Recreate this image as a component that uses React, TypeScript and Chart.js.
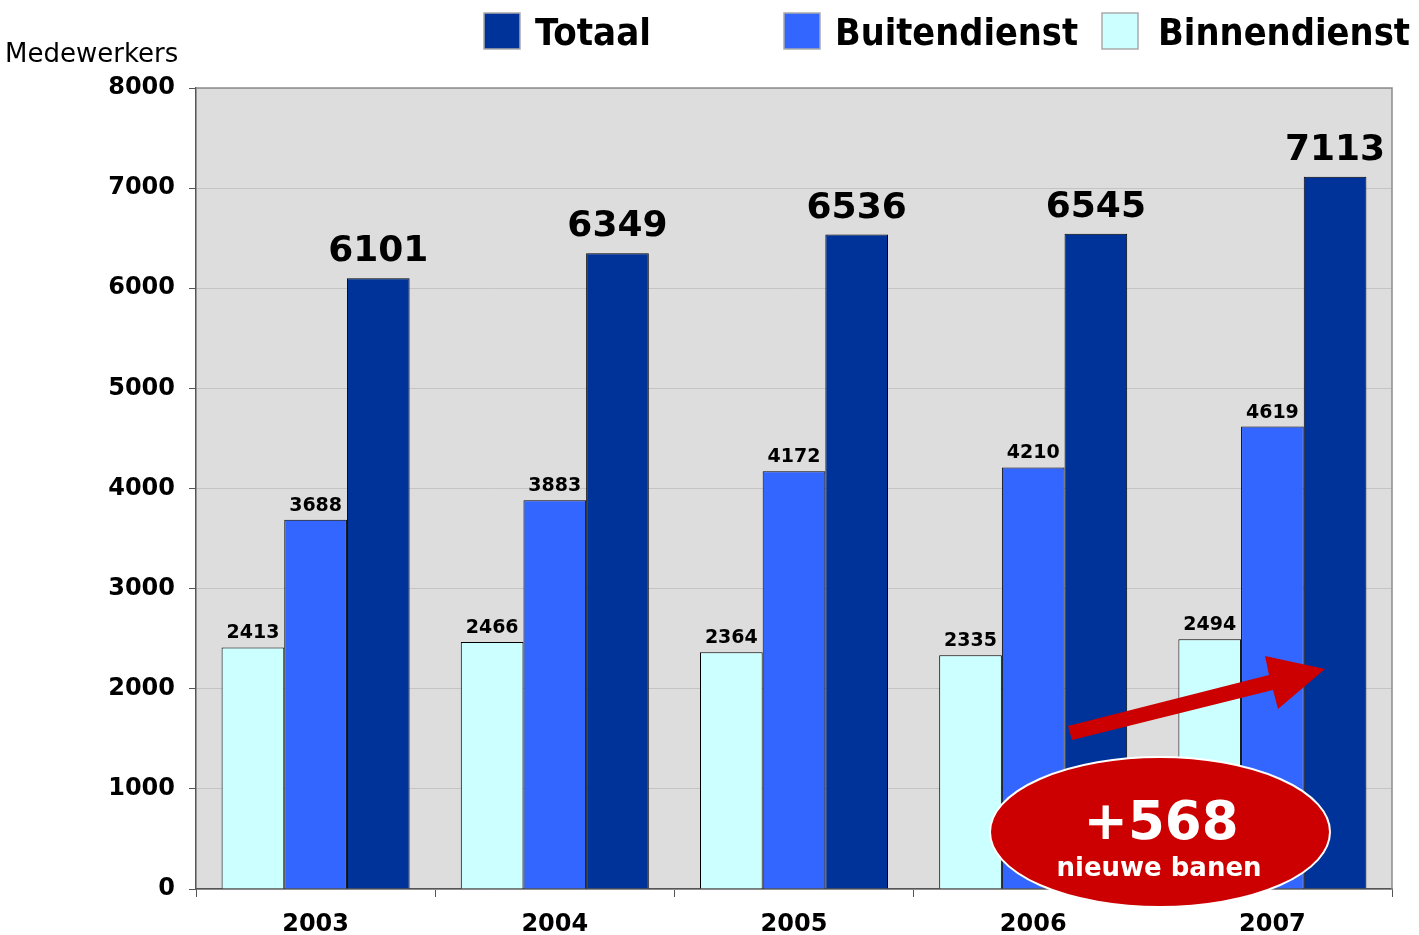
import React, { useEffect, useRef } from "react";
import { Chart, registerables } from "chart.js";

Chart.register(...registerables);

const years = ["2003", "2004", "2005", "2006", "2007"];
const binnendienst = [2413, 2466, 2364, 2335, 2494];
const buitendienst = [3688, 3883, 4172, 4210, 4619];
const totaal = [6101, 6349, 6536, 6545, 7113];

const seriesNames = ["Binnendienst", "Buitendienst", "Totaal"];
const seriesColors = ["#CCFFFF", "#3366FF", "#003399"];

const legendOrder = [2, 1, 0];
const yAxisTitle = "Medewerkers";
const bubbleBig = "+568";
const bubbleSmall = "nieuwe banen";

const FONT = "'DejaVu Sans', Verdana, sans-serif";
const FONT_C = "'DejaVu Sans Condensed', 'DejaVu Sans', sans-serif";

const bgPlugin = {
  id: "bgPlugin",
  beforeDraw(chart: any) {
    const { ctx, chartArea: a } = chart;
    ctx.save();
    ctx.fillStyle = "#DDDDDD";
    ctx.fillRect(a.left, a.top, a.right - a.left, a.bottom - a.top);
    ctx.restore();
  },
};

const labelPlugin = {
  id: "labelPlugin",
  afterDatasetsDraw(chart: any) {
    const { ctx, chartArea: a } = chart;
    ctx.save();
    ctx.strokeStyle = "#8C8C8C";
    ctx.lineWidth = 1.5;
    ctx.beginPath();
    ctx.moveTo(a.left, a.top);
    ctx.lineTo(a.right, a.top);
    ctx.lineTo(a.right, a.bottom);
    ctx.stroke();

    chart.data.datasets.forEach((ds: any, di: number) => {
      const meta = chart.getDatasetMeta(di);
      const big = di === 2;
      ctx.font = `bold ${big ? 36 : 19}px ${FONT}`;
      ctx.fillStyle = "#000";
      ctx.textAlign = "center";
      ctx.textBaseline = "alphabetic";
      meta.data.forEach((el: any, i: number) => {
        const v = ds.data[i];
        ctx.fillText(String(v), el.x, el.y - (big ? 17 : 9));
      });
    });
    ctx.restore();
  },
  afterDraw(chart: any) {
    const { ctx } = chart;
    ctx.save();
    ctx.fillStyle = "#000";
    ctx.font = `26px ${FONT}`;
    ctx.textAlign = "left";
    ctx.textBaseline = "alphabetic";
    ctx.fillText(yAxisTitle, 5, 62, 176);

    const legendPos = [
      { sq: 484, tx: 535, w: 117 },
      { sq: 784, tx: 835, w: 243 },
      { sq: 1102, tx: 1158, w: 252 },
    ];
    legendOrder.forEach((si, k) => {
      const p = legendPos[k];
      ctx.fillStyle = seriesColors[si];
      ctx.fillRect(p.sq, 13, 36, 36);
      ctx.strokeStyle = "#AAAAAA";
      ctx.lineWidth = 1.5;
      ctx.strokeRect(p.sq, 13, 36, 36);
      ctx.fillStyle = "#000";
      ctx.font = `bold 38px ${FONT_C}`;
      ctx.fillText(seriesNames[si], p.tx, 45, p.w);
    });

    ctx.fillStyle = "#CC0000";
    ctx.beginPath();
    ctx.moveTo(1068, 726);
    ctx.lineTo(1269, 675);
    ctx.lineTo(1265, 656);
    ctx.lineTo(1325, 669);
    ctx.lineTo(1278, 709);
    ctx.lineTo(1273, 690);
    ctx.lineTo(1072, 740);
    ctx.closePath();
    ctx.fill();

    ctx.beginPath();
    ctx.ellipse(1160, 832, 170, 75, 0, 0, Math.PI * 2);
    ctx.fillStyle = "#CC0000";
    ctx.fill();
    ctx.strokeStyle = "#FFFFFF";
    ctx.lineWidth = 2;
    ctx.stroke();

    ctx.fillStyle = "#FFFFFF";
    ctx.textAlign = "center";
    ctx.font = `bold 53px ${FONT}`;
    ctx.fillText(bubbleBig, 1161, 839);
    ctx.font = `bold 26px ${FONT}`;
    ctx.fillText(bubbleSmall, 1159, 876, 206);
    ctx.restore();
  },
};

export default function App() {
  const ref = useRef<HTMLCanvasElement>(null);
  useEffect(() => {
    if (!ref.current) return;
    const datasets = [binnendienst, buitendienst, totaal].map((d, i) => ({
      label: seriesNames[i],
      data: d,
      backgroundColor: seriesColors[i],
      borderColor: "#000000",
      borderWidth: 1,
      categoryPercentage: 0.786,
      barPercentage: 1.0,
    }));
    const chart = new Chart(ref.current, {
      type: "bar",
      data: { labels: years, datasets },
      options: {
        responsive: false,
        animation: false,
        devicePixelRatio: 1,
        layout: { padding: { top: 88, right: 27, left: 0, bottom: 0 } },
        plugins: {
          legend: { display: false },
          tooltip: { enabled: false },
          title: { display: false },
        },
        scales: {
          x: {
            offset: true,
            grid: {
              offset: true,
              drawOnChartArea: false,
              drawTicks: true,
              tickLength: 8,
              tickColor: "#555555",
            },
            border: { color: "#555555", width: 1.5 },
            ticks: {
              color: "#000",
              font: { family: FONT, weight: "bold", size: 24 },
              padding: 13,
              maxRotation: 0,
            },
            afterFit(s: any) {
              s.height = 46;
            },
          },
          y: {
            min: 0,
            max: 8000,
            ticks: {
              stepSize: 1000,
              color: "#000",
              font: { family: FONT, weight: "bold", size: 24 },
              padding: 14,
              callback: (v: any) => String(v),
            },
            grid: {
              color: "#C4C4C4",
              lineWidth: 1,
              tickColor: "#555555",
              tickLength: 7,
            },
            border: { color: "#555555", width: 1.5 },
            afterFit(s: any) {
              s.width = 196;
            },
          },
        },
      },
      plugins: [bgPlugin, labelPlugin],
    } as any);
    return () => chart.destroy();
  }, []);
  return (
    <div style={{ position: "absolute", left: 0, top: 0, width: 1419, height: 935, background: "#fff" }}>
      <canvas ref={ref} width={1419} height={935} style={{ width: 1419, height: 935, display: "block" }} />
    </div>
  );
}
